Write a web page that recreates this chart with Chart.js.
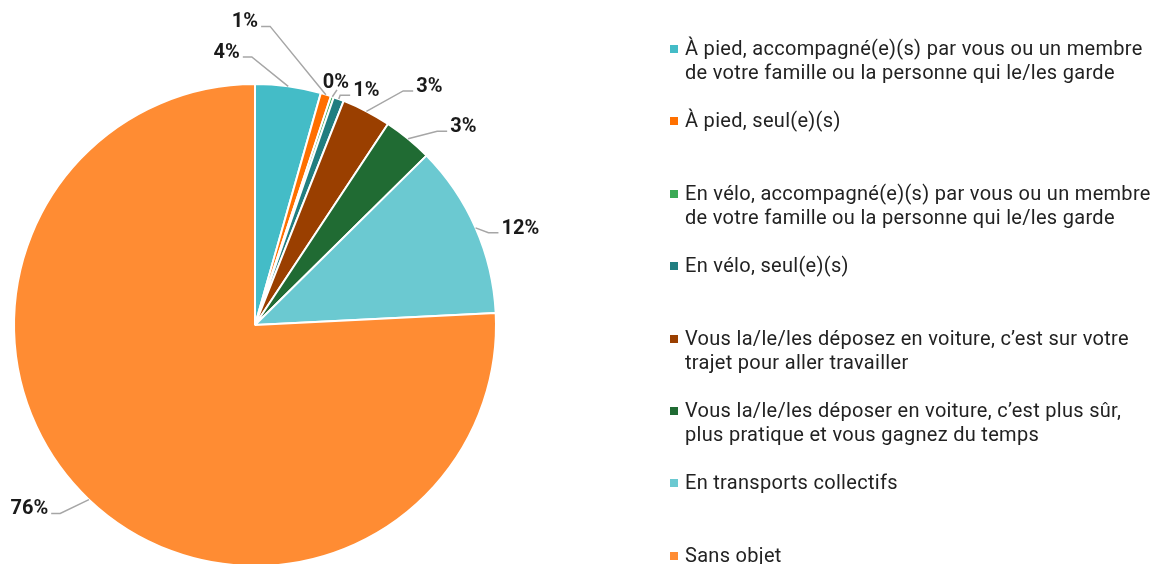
<!DOCTYPE html>
<html lang="fr">
<head>
<meta charset="utf-8">
<title>Mode de déplacement</title>
<script src="https://cdn.jsdelivr.net/npm/chart.js@4"></script>
<style>
  html, body { margin: 0; padding: 0; background: #fff; }
  body { width: 1160px; height: 564px; overflow: hidden; position: relative; font-family: Roboto, "Noto Sans", sans-serif; }
  #wrap { position: absolute; left: 0; top: 0; width: 1160px; height: 600px; }
  #legend { position: absolute; left: 670px; top: 36px; width: 490px; }
  .item { position: relative; height: 72.4px; padding-left: 15px; font-size: 20px; line-height: 24px; color: #222; letter-spacing: 0.3px; }
  .item .box { position: absolute; left: 0; top: 9px; width: 8px; height: 8px; }
  .item .txt { width: 472px; }
</style>
</head>
<body>
<div id="wrap"><canvas id="pieChart" width="1160" height="600"></canvas></div>
<div id="legend"></div>
<script>
// Répartition des modes de déplacement (%)

const categories = [
  'À pied, accompagné(e)(s) par vous ou un membre de votre famille ou la personne qui le/les garde',
  'À pied, seul(e)(s)',
  'En vélo, accompagné(e)(s) par vous ou un membre de votre famille ou la personne qui le/les garde',
  'En vélo, seul(e)(s)',
  'Vous la/le/les déposez en voiture, c’est sur votre trajet pour aller travailler',
  'Vous la/le/les déposer en voiture, c’est plus sûr, plus pratique et vous gagnez du temps',
  'En transports collectifs',
  'Sans objet'
];

const shares = [4.4, 0.7, 0.2, 0.7, 3.3, 3.3, 11.6, 75.8];

const sliceColors = ['#44BCC7', '#FF7000', '#3BAA55', '#217E80', '#9A3F00', '#206B33', '#6BC9D1', '#FF8C33'];

// leader line placement for each label: angle shift (deg), distance beyond edge (px), side
const labelPlacement = [
  { shift: -8.6, extra: 27, side: 'left' },
  { shift: -14.2, extra: 58, side: 'left' },
  { shift: 0.5, extra: 8, side: 'up' },
  { shift: 0, extra: 4, side: 'right' },
  { shift: 4.8, extra: 36, side: 'right' },
  { shift: 3.8, extra: 25, side: 'right' },
  { shift: 2.2, extra: 10, side: 'right' },
  { shift: 2.4, extra: 30, side: 'left' }
];

const leaderLabels = {
  id: 'leaderLabels',
  afterDatasetsDraw(chart) {
    const ctx = chart.ctx;
    const meta = chart.getDatasetMeta(0);
    const values = chart.data.datasets[0].data;
    const total = values.reduce((a, b) => a + b, 0);
    ctx.save();
    ctx.font = 'bold 20px Roboto, "Noto Sans", sans-serif';
    ctx.fillStyle = '#1a1a1a';
    ctx.strokeStyle = '#A6A6A6';
    ctx.lineWidth = 1.5;
    meta.data.forEach((arc, i) => {
      const p = arc.getProps(['x', 'y', 'startAngle', 'endAngle', 'outerRadius'], true);
      const place = labelPlacement[i];
      const mid = (p.startAngle + p.endAngle) / 2;
      const ex = p.x + p.outerRadius * Math.cos(mid);
      const ey = p.y + p.outerRadius * Math.sin(mid);
      const a2 = mid + place.shift * Math.PI / 180;
      const r2 = p.outerRadius + place.extra;
      const bx = p.x + r2 * Math.cos(a2);
      const by = p.y + r2 * Math.sin(a2);
      const text = Math.round(values[i] / total * 100) + '%';

      ctx.beginPath();
      ctx.moveTo(ex, ey);
      ctx.lineTo(bx, by);
      let tx = bx;
      if (place.side === 'left') tx = bx - 9;
      if (place.side === 'right') tx = bx + 10;
      if (place.side !== 'up') ctx.lineTo(tx, by);
      ctx.stroke();

      ctx.textBaseline = 'alphabetic';
      if (place.side === 'left') {
        ctx.textAlign = 'right';
        ctx.fillText(text, tx - 3, by + 1);
      } else if (place.side === 'right') {
        ctx.textAlign = 'left';
        ctx.fillText(text, tx + 3, by + 1);
      } else {
        ctx.textAlign = 'center';
        ctx.fillText(text, bx - 1, by - 2);
      }
    });
    ctx.restore();
  }
};

const chart = new Chart(document.getElementById('pieChart'), {
  type: 'pie',
  data: {
    labels: categories,
    datasets: [{
      data: shares,
      backgroundColor: sliceColors,
      borderColor: '#ffffff',
      borderWidth: 2
    }]
  },
  options: {
    responsive: false,
    animation: false,
    layout: {
      padding: { left: 13, top: 83, right: 663, bottom: 33 }
    },
    plugins: {
      legend: { display: false },
      tooltip: { enabled: false }
    }
  },
  plugins: [leaderLabels]
});

// HTML legend built from the chart data
function buildLegend(chart) {
  const el = document.getElementById('legend');
  const ds = chart.data.datasets[0];
  let html = '';
  chart.data.labels.forEach((label, i) => {
    html += '<div class="item"><span class="box" style="background:' + ds.backgroundColor[i] + '"></span>';
    html += '<div class="txt">' + label + '</div></div>';
  });
  el.innerHTML = html;
}

buildLegend(chart);
</script>
</body>
</html>
